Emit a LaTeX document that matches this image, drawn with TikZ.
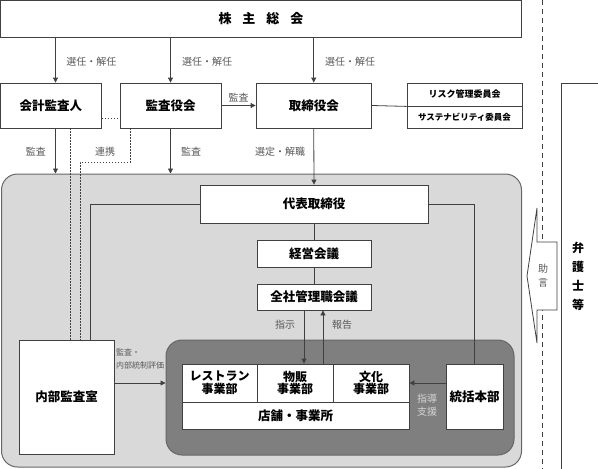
\documentclass[tikz,border=0pt]{standalone}
\usepackage{fontspec}
\setmainfont{Noto Sans CJK JP}
\usepackage{tikz}
\usetikzlibrary{arrows.meta,calc,positioning}
\definecolor{linegray}{HTML}{404040}
\definecolor{lightregion}{HTML}{D9D9D9}
\definecolor{darkregion}{HTML}{7F7F7F}
\definecolor{labelgray}{HTML}{595959}
\definecolor{palelabel}{HTML}{D4D4D4}

\begin{document}
\begin{tikzpicture}[x=1pt,y=-1pt,
	box/.style={draw=linegray,fill=white,line width=0.8pt,inner sep=0pt,align=center,font=\fontsize{12.5}{14}\selectfont\bfseries},
	unitbox/.style={box,font=\fontsize{12}{12.5}\selectfont\bfseries},
	tag/.style={text=labelgray,inner sep=1pt,font=\fontsize{10}{12}\selectfont},
	region/.style={draw=linegray!80,line width=1pt,rounded corners=16pt,inner sep=0pt},
	link/.style={draw=linegray,line width=0.8pt},
	arr/.style={link,-{Triangle[length=5pt,width=5pt]}},
	dotline/.style={draw=linegray,line width=0.8pt,dash pattern=on 1.2pt off 1.8pt}]
		\useasboundingbox (0,0) rectangle (598,469);
		\draw[linegray,line width=0.8pt,dash pattern=on 5pt off 4pt] (542,0) -- (542,469);
		\node[region,fill=lightregion,minimum width=520pt,minimum height=293pt] (group) at (261.5,320.5) {};
		\node[region,fill=darkregion,minimum width=348pt,minimum height=115pt] (core) at (340,397.5) {};

		\node[box,minimum width=521pt,minimum height=36.5pt,font=\fontsize{13}{14}\selectfont\bfseries] (soukai) at (261,18.75) {株\hspace{11pt}主\hspace{11pt}総\hspace{11pt}会};
		\node[box,minimum width=101pt,minimum height=45pt] (kaikei) at (51,105.5) {会計監査人};
		\node[box,minimum width=101pt,minimum height=45pt] (kansayaku) at (170.5,105.5) {監査役会};
		\node[box,minimum width=115.5pt,minimum height=45pt] (torishimari) at (313.75,105.5) {取締役会};
		\node[box,minimum width=115pt,minimum height=23pt,font=\fontsize{9}{10}\selectfont\bfseries] (risk) at (464.5,94.5) {リスク管理委員会};
		\node[box,minimum width=115pt,minimum height=22pt,font=\fontsize{8.5}{10}\selectfont\bfseries] (sustain) at (464.5,117) {サステナビリティ委員会};

		\node[box,minimum width=228pt,minimum height=38pt] (daihyo) at (314,204) {代表取締役};
		\node[box,minimum width=114pt,minimum height=27pt] (keiei) at (314,253.5) {経営会議};
		\node[box,minimum width=114pt,minimum height=26pt] (kanri) at (314,297) {全社管理職会議};
		\node[box,minimum width=95pt,minimum height=114pt] (naibu) at (66.5,397) {内部監査室};

		\node[unitbox,minimum width=75pt,minimum height=38pt] (restaurant) at (219.5,383) {レストラン\\事業部};
		\node[unitbox,minimum width=76pt,minimum height=38pt] (buppan) at (295,383) {物販\\事業部};
		\node[unitbox,minimum width=76pt,minimum height=38pt] (bunka) at (371,383) {文化\\事業部};
		\node[box,minimum width=227pt,minimum height=27pt] (tenpo) at (295.5,415.5) {店舗・事業所};
		\node[box,minimum width=57pt,minimum height=65pt] (toukatsu) at (474.5,396.5) {統括本部};

		\draw[arr] ([xshift=4.5pt]soukai.south -| kaikei.north) -- ([xshift=4.5pt]kaikei.north);
		\draw[arr] (soukai.south -| kansayaku.north) -- (kansayaku.north);
		\draw[arr] (soukai.south -| torishimari.north) -- (torishimari.north);
		\node[tag] (sennin1) at (91.5,62) {選任・解任};
		\node[tag] (sennin2) at (207,62) {選任・解任};
		\node[tag] (sennin3) at (350,62) {選任・解任};

		\draw[arr] (kansayaku.east) -- node[tag,above=2pt] (kansa0) {監査} (torishimari.west);
		\draw[link] (torishimari.east) -- (risk.south west);
		\draw[dotline] ([yshift=-12.5pt]kaikei.east) -- ([yshift=-12.5pt]kansayaku.west);

		\draw[arr] ([xshift=4.5pt]kaikei.south) -- ([xshift=4.5pt]kaikei.south |- group.north);
		\draw[arr] (kansayaku.south) -- (kansayaku.south |- group.north);
		\draw[arr] (torishimari.south) -- (daihyo.north);
		\node[tag] (kansa1) at (36,152) {監査};
		\node[tag] (renkei) at (105,152) {連携};
		\node[tag] (kansa2) at (191,152) {監査};
		\node[tag] (sentei) at (280,152) {選定・解職};

		\draw[dotline] ([xshift=19pt]kaikei.south) -- ([xshift=3.5pt]naibu.north);
		\draw[dotline] ([xshift=-40.5pt]kansayaku.south) -- ++(0,34) -| ([xshift=13.5pt]naibu.north);
		\draw[link] (daihyo.west) -| ([xshift=23.5pt]naibu.north);
		\draw[link] (daihyo.east) -| (toukatsu.north);
		\draw[link] (daihyo.south) -- (keiei.north);
		\draw[link] (keiei.south) -- (kanri.north);

		\draw[arr] ([xshift=-10pt]kanri.south) -- ([xshift=-10pt]kanri.south |- buppan.north);
		\draw[arr] ([xshift=9pt]kanri.south |- buppan.north) -- ([xshift=9pt]kanri.south);
		\node[tag] (shiji) at (285,325) {指示};
		\node[tag] (houkoku) at (342,325) {報告};

		\draw[arr] (bunka.east -| toukatsu.west) -- (bunka.east);
		\node[tag,text=palelabel,align=center,font=\fontsize{10}{13}\selectfont] (shidou) at (427,405) {指導\\支援};
		\draw[arr] ([yshift=14pt]naibu.east) -- ([yshift=14pt]naibu.east -| core.west);
		\node[tag,anchor=north west,align=left,font=\fontsize{8}{13}\selectfont] (hyouka) at (115,348) {監査・\\内部統制評価};

		\draw[link,fill=white] (527,276) -- (537,208) -- (537,242) -- (557,242) -- (557,310) -- (537,310) -- (537,343) -- cycle;
		\node[tag,align=center,font=\fontsize{10}{14}\selectfont] (jogen) at (543,276) {助\\言};
		\draw[link] (561,475) |- (605,83);
		\node[align=center,inner sep=0pt,font=\fontsize{12}{19}\selectfont\bfseries] (bengoshi) at (578,276) {弁\\護\\士\\等};
\end{tikzpicture}
\end{document}
